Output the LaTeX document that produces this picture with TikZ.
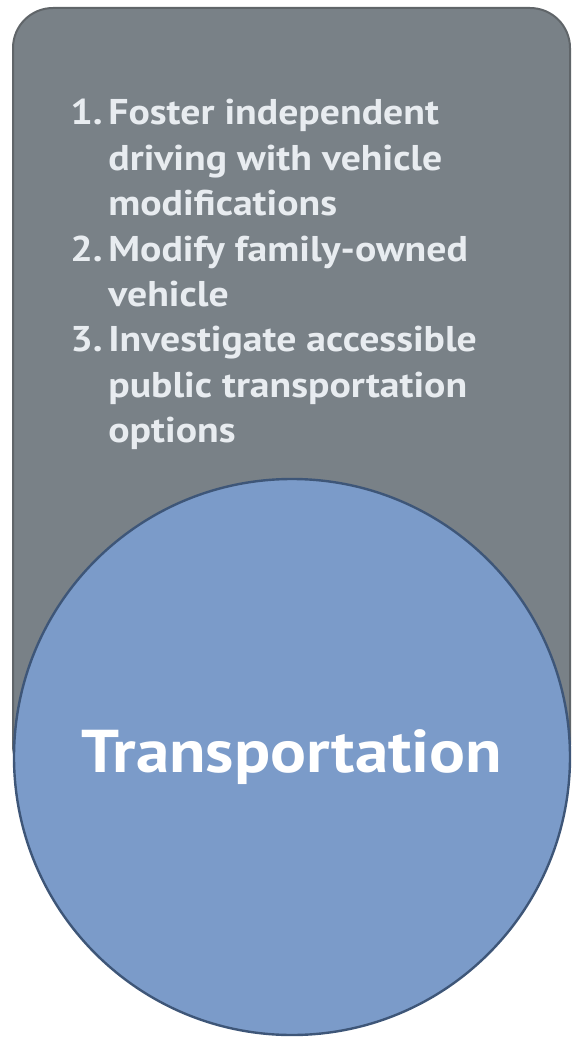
\documentclass[tikz,border=0pt]{standalone}
\usepackage{xcolor}
\usepackage{fontspec}
\setmainfont{PT Sans}[FakeStretch=1.11]
\usepackage{tikz}
\usetikzlibrary{positioning}

\definecolor{panelgray}{RGB}{121,129,135}
\definecolor{panelline}{RGB}{96,101,105}
\definecolor{hubblue}{RGB}{123,155,201}
\definecolor{hubline}{RGB}{62,86,120}
\definecolor{itemtext}{RGB}{232,236,240}

\begin{document}
\begin{tikzpicture}[x=0.5pt,y=-0.5pt,
    panel/.style={fill=panelgray,draw=panelline,line width=1pt,rounded corners=20pt},
    hub/.style={circle,fill=hubblue,draw=hubline,line width=1.2pt,minimum size=278pt,inner sep=0pt,
        text=white,font=\bfseries\fontsize{30.2}{36}\selectfont},
    items/.style={inner sep=0pt,text=itemtext,font=\bfseries\fontsize{17.9}{22.7}\selectfont}]

    \useasboundingbox (0,0) rectangle (574,1037);

    % The panel
    \path[panel] (13,8) rectangle (570,785);

    % The list of steps
    \node [items,anchor=base west] at (70,125) (steps) {%
        \begin{tabular}[t]{@{}p{19pt}@{}l@{}}
        1. & Foster independent\\
           & driving with vehicle\\
           & modifications\\
        2. & Modify family-owned\\
           & vehicle\\
        3. & Investigate accessible\\
           & public transportation\\
           & options
        \end{tabular}};

    % The circle
    \node [hub] at (292,757) (transport) {Transportation};

\end{tikzpicture}
\end{document}
